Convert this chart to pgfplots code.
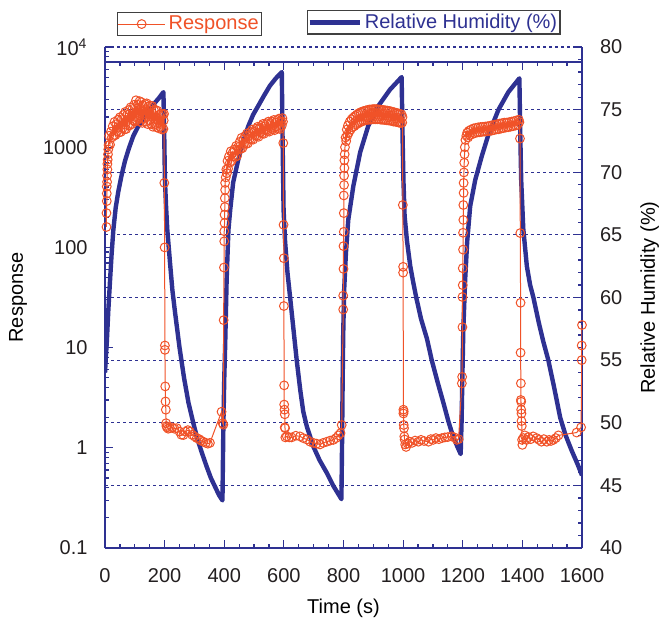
\documentclass[border=0pt]{standalone}
\usepackage{pgfplots}
\pgfplotsset{compat=1.18}
\usepackage{fontspec}
\setmainfont{Liberation Sans}
\definecolor{rhblue}{RGB}{46,49,146}
\definecolor{resp}{RGB}{240,82,40}
\definecolor{txt}{RGB}{35,31,32}
\pgfplotsset{
 base/.style={
  scale only axis, width=238.5pt, height=250.5pt,
  xmin=0, xmax=1600,
  xtick={0,200,...,1600}, minor x tick num=3,
  tick align=inside,
  major tick length=4pt, minor tick length=2.2pt,
  tick style={rhblue, line width=0.6pt},
  axis line style={rhblue, line width=1pt},
  tick label style={font=\fontsize{10}{12}\selectfont, text=txt},
  label style={font=\fontsize{10}{12}\selectfont, text=txt},
  /pgf/number format/assume math mode=true,
  /pgf/number format/1000 sep={},
  legend style={font=\fontsize{10}{12}\selectfont, draw=black!75, line width=0.75pt, fill=white, inner sep=0pt, nodes={inner sep=1.5pt}},
 }
}
\pgfplotstableread{
t rh
0 54.0
3 55.3
6 56.4
11 58.9
17 61.4
22 63.4
28 65.4
36 67.2
45 68.5
56 69.8
67 70.9
80 71.9
95 72.9
110 73.6
129 74.3
145 74.9
162 75.4
180 75.9
196 76.4
199 72.5
201 69.4
205 67.2
209 65.4
218 62.8
226 60.6
235 58.8
250 56.0
265 53.6
280 51.6
296 50.0
310 48.7
325 47.6
341 46.5
355 45.6
369 44.9
383 44.2
394 43.8
397 49.7
400 53.5
403 56.1
408 61.4
414 65.4
420 67.0
430 69.2
447 71.0
464 72.5
481 73.7
497 74.6
514 75.3
533 76.1
553 76.9
573 77.5
593 78.0
596 72.0
599 67.0
604 64.5
612 62.0
621 60.0
632 57.5
643 55.0
655 52.6
665 50.9
677 49.7
699 48.1
720 47.0
744 46.0
765 45.0
788 44.1
793 43.9
795 48.0
797 53.0
799 57.0
802 60.5
808 63.5
816 66.2
833 68.9
856 71.6
883 73.7
917 75.3
956 76.6
995 77.6
998 73.0
1001 69.4
1005 66.5
1013 64.5
1024 62.5
1034 61.2
1044 60.0
1060 58.3
1080 56.7
1096 55.0
1115 53.3
1135 51.6
1152 50.1
1165 49.1
1180 48.2
1193 47.5
1196 50.0
1199 54.0
1202 57.5
1208 61.4
1215 64.5
1225 67.3
1242 69.4
1264 71.3
1286 73.0
1320 75.0
1353 76.4
1390 77.5
1393 73.0
1396 69.4
1403 65.5
1415 62.5
1426 61.0
1437 60.0
1455 58.0
1470 56.5
1487 55.0
1505 53.0
1527 50.4
1545 49.0
1565 47.8
1585 46.7
1600 45.8
}\rhdata
\pgfplotstableread{
t r
5 160
5 220
6 290
6 345
6 405
7 450
7 520
8 600
8 680
9 750
10 850
11 950
12 1050
14 1300
17 1060
20 1430
23 1250
26 1620
29 1300
32 1790
35 1320
38 1700
41 1450
44 1880
47 1400
50 1990
53 1420
56 1900
59 1550
62 2100
65 1500
68 2250
71 1520
74 2100
77 1650
80 2350
83 1650
86 2500
89 1700
92 2400
95 1850
98 2650
101 1800
104 2940
107 1850
110 2650
113 1950
116 2880
119 1800
122 2810
125 1750
128 2600
131 1950
134 2700
137 1800
140 2740
143 1700
146 2550
149 1850
152 2600
155 1700
158 2580
161 1600
164 2350
167 1700
170 2350
173 1580
176 2310
179 1550
182 2100
185 1600
188 2150
191 1500
194 2120
196 1520
197 1850
198 2150
199 440
200 100
201 10.5
201 9.5
202 4.1
203 2.9
204 2.4
205 1.76
206 1.65
208 1.6
212 1.55
218 1.57
225 1.6
233 1.55
241 1.57
250 1.45
256 1.35
263 1.34
270 1.45
278 1.5
285 1.45
292 1.35
300 1.3
308 1.25
316 1.22
322 1.18
330 1.15
338 1.12
345 1.1
352 1.12
391 2.29
395 1.76
397 1.7
398 18.8
399 63
400 115
400 145
401 175
401 212
402 253
402 310
403 375
403 440
405 500
407 600
409 550
411 730
413 610
416 810
419 700
422 910
425 730
428 880
431 810
434 950
437 800
440 1030
443 820
446 1000
449 950
452 1130
455 960
458 1240
461 980
464 1190
467 1090
470 1290
473 1080
476 1370
479 1090
482 1310
485 1210
488 1420
491 1200
494 1500
497 1190
500 1430
503 1310
506 1530
509 1290
512 1600
515 1270
518 1530
521 1400
524 1630
527 1370
530 1710
533 1360
536 1620
539 1480
542 1730
545 1450
548 1800
551 1430
554 1700
557 1550
560 1800
563 1510
566 1870
569 1480
572 1760
575 1610
578 1870
581 1550
584 1930
587 1520
590 1810
593 1640
595 1950
597 1800
598 1100
599 168
600 78
600 26
601 4.2
601 2.7
602 2.4
603 2.16
603 1.6
604 1.57
605 1.27
610 1.3
618 1.27
626 1.27
640 1.32
654 1.3
665 1.25
677 1.21
688 1.15
699 1.12
710 1.1
721 1.08
732 1.12
744 1.15
755 1.18
766 1.2
775 1.25
783 1.33
790 1.4
794 1.69
799 24
799 33
800 61
800 103
801 143
801 220
801 330
802 420
802 520
803 620
803 740
804 850
805 1000
807 1250
809 1150
811 1500
813 1300
815 1650
818 1400
821 1800
824 1500
827 1900
830 1580
833 1980
836 1620
839 2050
842 1680
845 2120
848 1720
851 2180
854 1760
857 2230
860 1800
863 2270
866 1830
869 2300
872 1850
875 2330
878 1870
881 2350
884 1880
887 2380
890 1880
893 2380
896 1900
899 2400
902 1900
905 2400
908 1900
911 2400
914 1900
917 2380
920 1900
923 2380
926 1880
929 2350
932 1880
935 2350
938 1870
941 2330
944 1860
947 2320
950 1850
953 2300
956 1840
959 2280
962 1830
965 2250
968 1800
971 2230
974 1800
977 2200
980 1780
983 2180
986 1760
989 2150
992 1740
995 2120
997 1760
998 2000
999 265
1000 64
1000 56
1001 2.4
1001 2.2
1002 2.3
1002 1.69
1003 1.57
1004 1.3
1005 1.21
1007 1.08
1010 1.02
1015 1.1
1022 1.15
1030 1.12
1040 1.18
1051 1.15
1060 1.2
1070 1.17
1085 1.15
1093 1.22
1101 1.2
1110 1.25
1120 1.22
1130 1.25
1140 1.27
1150 1.28
1163 1.3
1172 1.27
1180 1.2
1186 1.22
1197 4.4
1198 5.1
1199 16
1199 32
1200 42
1200 62
1201 95
1201 140
1202 188
1202 265
1203 350
1203 440
1204 560
1205 700
1206 850
1207 1000
1209 1180
1212 1300
1215 1400
1218 1250
1221 1460
1224 1320
1228 1500
1232 1350
1236 1540
1240 1380
1244 1560
1248 1400
1252 1580
1256 1410
1260 1590
1264 1420
1268 1600
1272 1430
1276 1610
1280 1440
1284 1620
1288 1450
1292 1640
1296 1460
1300 1660
1304 1480
1308 1680
1312 1500
1316 1700
1320 1510
1324 1720
1328 1530
1332 1740
1336 1550
1340 1760
1344 1570
1348 1760
1352 1580
1356 1780
1360 1600
1364 1800
1368 1620
1372 1820
1376 1640
1380 1850
1384 1670
1388 1880
1390 1780
1392 1220
1393 139
1394 28
1394 8.9
1395 4.4
1395 3.0
1396 2.4
1396 2.88
1397 2.2
1397 1.85
1398 1.65
1399 1.2
1400 1.07
1403 1.25
1408 1.33
1414 1.2
1420 1.28
1428 1.22
1436 1.3
1448 1.25
1456 1.2
1464 1.15
1472 1.22
1482 1.15
1490 1.2
1496 1.17
1504 1.2
1512 1.25
1521 1.33
1582 1.42
1597 1.6
1599 7.5
1599 10.5
1600 16.8
}\respdata
\begin{document}
\begin{tikzpicture}
\useasboundingbox (-52.5pt,-37pt) rectangle (277pt,274pt);
% right axis (relative humidity), drawn first
\begin{axis}[base, hide x axis, axis y line*=right,
  ymin=40, ymax=80, ytick={40,45,...,80}, minor y tick num=4,
  ymajorgrids, grid style={rhblue, line width=0.6pt, dash pattern=on 1.5pt off 1.5pt},
  yticklabel style={xshift=5.5pt},
  every axis y label/.style={at={(axis description cs:1.153,0.5)}, rotate=90, anchor=base},
  ylabel={Relative Humidity (\%)},
  legend style={at={(axis description cs:0.423,1.074)}, anchor=north west},
  legend image code/.code={\draw[#1] (0pt,0pt) -- (25pt,0pt);}]
\addplot[rhblue, line width=2.2pt, line join=round] table[x=t,y=rh] {\rhdata};
\addlegendentry{\textcolor{rhblue}{Relative Humidity (\%)}}
\end{axis}
% top frame line
\begin{axis}[base, height=243pt, hide y axis, axis x line*=top,
  ymin=0, ymax=1, xticklabels={}]
\end{axis}
% left axis (response)
\begin{axis}[base, ymode=log, ymin=0.1, ymax=10000,
  axis y line*=left, axis x line*=bottom,
  ytick={0.1,1,10,100,1000,10000},
  yticklabels={0.1,1,10,100,1000,10\textsuperscript{4}},
  yticklabel style={xshift=-5.2pt},
  xticklabel style={yshift=-6.7pt},
  every axis y label/.style={at={(axis description cs:-0.172,0.5)}, rotate=90, anchor=base},
  ylabel={Response},
  every axis x label/.style={at={(axis description cs:0.5,-0.13)}, anchor=base},
  xlabel={Time (s)},
  legend style={at={(axis description cs:0.025,1.070)}, anchor=north west},
  legend image code/.code={\draw[mark repeat=2,mark phase=2,#1] plot coordinates {(0pt,0pt) (11.75pt,0pt) (23.5pt,0pt)};}]
\addplot[resp, line width=0.5pt, mark=o, mark size=2.2pt, mark options={line width=0.5pt, solid}] table[x=t,y=r] {\respdata};
\addlegendentry{\textcolor{resp}{Response}}
\end{axis}
\end{tikzpicture}
\end{document}
